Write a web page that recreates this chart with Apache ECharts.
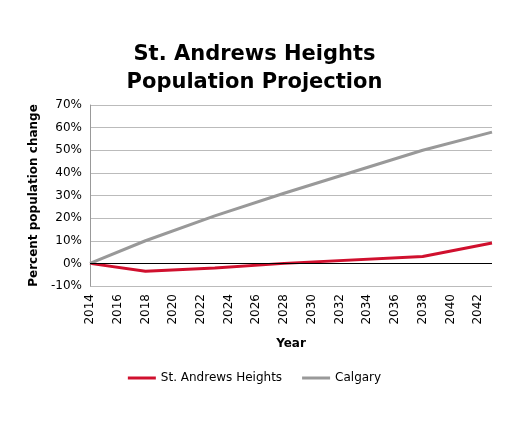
<!DOCTYPE html>
<html>
<head>
<meta charset="utf-8">
<script src="https://cdn.jsdelivr.net/npm/echarts@6/dist/echarts.min.js"></script>
<style>html,body{margin:0;padding:0;background:#fff}#chart{width:509px;height:425px}</style>
</head>
<body>
<div id="chart"></div>
<script>
// years where the lines bend
const years = [2014, 2018, 2023, 2028, 2038, 2043];
const standrews = [0, -3.5, -2, 0, 3, 9];
const calgary = [0, 10, 21, 31, 50, 58];

const pairs = (vals) => years.map((y, i) => [y, vals[i]]);
const font = 'DejaVu Sans';

const chart = echarts.init(document.getElementById('chart'));
chart.setOption({
  textStyle: { fontFamily: font },
  title: {
    text: 'St. Andrews Heights\nPopulation Projection',
    left: 'center', top: 36,
    textStyle: { fontSize: 21, fontWeight: 'bold', color: '#000', lineHeight: 28, fontFamily: font }
  },
  grid: { left: 90, right: 17, top: 105, bottom: 139 },
  legend: {
    bottom: 36, left: 'center', itemWidth: 28, itemHeight: 3, itemGap: 20,
    icon: 'rect',
    textStyle: { fontSize: 12, color: '#000' },
    data: ['St. Andrews Heights', 'Calgary']
  },
  xAxis: {
    type: 'value', min: 2014, max: 2043, interval: 2,
    name: 'Year', nameLocation: 'middle', nameGap: 52,
    nameTextStyle: { fontSize: 12, fontWeight: 'bold', color: '#000' },
    axisLine: { show: false },
    axisTick: { show: false },
    splitLine: { show: false },
    axisLabel: { rotate: 90, fontSize: 12, color: '#000', formatter: v => v <= 2042 ? String(v) : '' }
  },
  yAxis: {
    type: 'value', min: -10, max: 70, interval: 10,
    name: 'Percent population change', nameLocation: 'middle', nameGap: 50,
    nameTextStyle: { fontSize: 12, fontWeight: 'bold', color: '#000' },
    axisLine: { show: true, lineStyle: { color: '#999' } },
    axisTick: { show: false },
    splitLine: { lineStyle: { color: '#bbb' } },
    axisLabel: { fontSize: 12, color: '#000', formatter: '{value}%' }
  },
  series: [
    {
      name: 'St. Andrews Heights', type: 'line', data: pairs(standrews),
      symbol: 'none', lineStyle: { width: 3, color: '#d0102e' }, itemStyle: { color: '#d0102e' },
      markLine: {
        silent: true, symbol: 'none', label: { show: false },
        lineStyle: { color: '#000', type: 'solid', width: 1.2 },
        data: [{ yAxis: 0 }]
      },
      z: 3
    },
    {
      name: 'Calgary', type: 'line', data: pairs(calgary),
      symbol: 'none', lineStyle: { width: 3, color: '#999' }, itemStyle: { color: '#999' }
    }
  ]
});
</script>
</body>
</html>
